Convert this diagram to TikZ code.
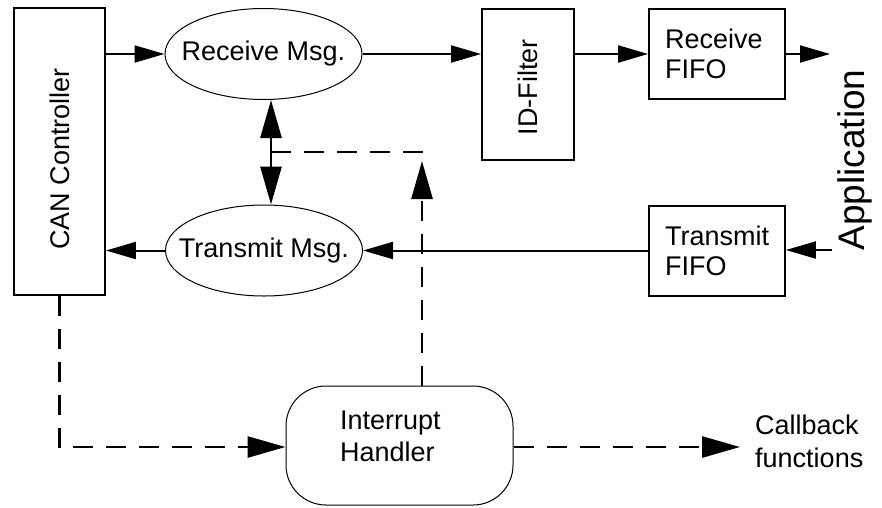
\documentclass[tikz,border=0pt]{standalone}
\usepackage{fontspec}
\setmainfont{Liberation Sans}
\usetikzlibrary{shapes.geometric,arrows.meta}
\begin{document}
\begin{tikzpicture}[x=1pt,y=-1pt,
  lbl/.style={font=\fontsize{27}{31}\selectfont, inner sep=0pt},
  boxnode/.style={draw, line width=1.8pt, inner sep=0pt},
  ellnode/.style={draw, ellipse, line width=1pt, inner sep=0pt, minimum width=197pt, minimum height=91pt, font=\fontsize{27}{31}\selectfont},
  ihbox/.style={draw, line width=1pt, rounded corners=40pt, minimum width=227pt, minimum height=119pt, inner sep=0pt},
  conn/.style={line width=2pt, -{Triangle[length=30pt,width=17pt]}},
  bigtip/.style={-{Triangle[length=38pt,width=21pt]}},
  dashline/.style={line width=2.8pt, dash pattern=on 20pt off 13pt},
]
\useasboundingbox (0,0) rectangle (882,507);

% boxes
\node[boxnode, minimum width=91pt, minimum height=287pt] (can) at (59.5,151.5) {};
\node[lbl, rotate=90] (cantxt) at (60,159) {CAN Controller};
\node[ellnode] (rmsg) at (263.5,54) {\makebox[0pt]{Receive Msg.}};
\node[ellnode] (tmsg) at (264,250.5) {\makebox[0pt]{Transmit Msg.}};
\node[boxnode, minimum width=92pt, minimum height=151pt] (idf) at (528,84.5) {};
\node[lbl, rotate=90] (idftxt) at (528,87) {ID-Filter};
\node[boxnode, minimum width=136pt, minimum height=90pt, text width=104pt, align=left, font=\fontsize{27}{30}\selectfont] (rfifo) at (717,54) {Receive\\FIFO};
\node[boxnode, minimum width=136pt, minimum height=90pt, text width=104pt, align=left, font=\fontsize{27}{30}\selectfont] (tfifo) at (717,251) {Transmit\\FIFO};
\node[lbl, rotate=90, font=\fontsize{37}{40}\selectfont] (app) at (855,160) {Application};
\node[ihbox] (ih) at (399.5,445.5) {};
\node[lbl, text width=119pt, align=left, font=\fontsize{27}{32}\selectfont] (ihtxt) at (399.5,436) {Interrupt\\Handler};
\node[lbl, anchor=west, align=left, font=\fontsize{27}{33}\selectfont] (cbtxt) at (755,441.5) {Callback\\functions};

% coordinates
\coordinate (appout) at (830,54);
\coordinate (appin) at (832,250);
\coordinate (da) at (271,152);
\coordinate (db) at (423,152);
\coordinate (ihup) at (422,161);
\coordinate (cb) at (740,447);

% solid connectors
\draw[conn] (can.east |- rmsg.west) -- (rmsg.west);
\draw[conn] (rmsg.east) -- (rmsg.east -| idf.west);
\draw[conn] (idf.east |- rfifo.west) -- (rfifo.west);
\draw[conn] (rfifo.east) -- (appout);
\draw[conn] (appin) -- (appin -| tfifo.east);
\draw[conn] (tfifo.west |- tmsg.east) -- (tmsg.east);
\draw[conn] (tmsg.west) -- (tmsg.west -| can.east);
\draw[line width=2.8pt, {Triangle[length=38pt,width=21pt]}-{Triangle[length=38pt,width=21pt]}] (da |- rmsg.south) -- (da |- tmsg.north);

% dashed connectors
\draw[dashline] (db) -- (da);
\draw[dashline, bigtip] (ihup |- ih.north) -- (ihup);
\draw[dashline, bigtip] (can.south) -- (can.south |- 0,447) -- (ih.west |- 0,447);
\draw[dashline, bigtip] (ih.east |- cb) -- (cb);
\end{tikzpicture}
\end{document}
